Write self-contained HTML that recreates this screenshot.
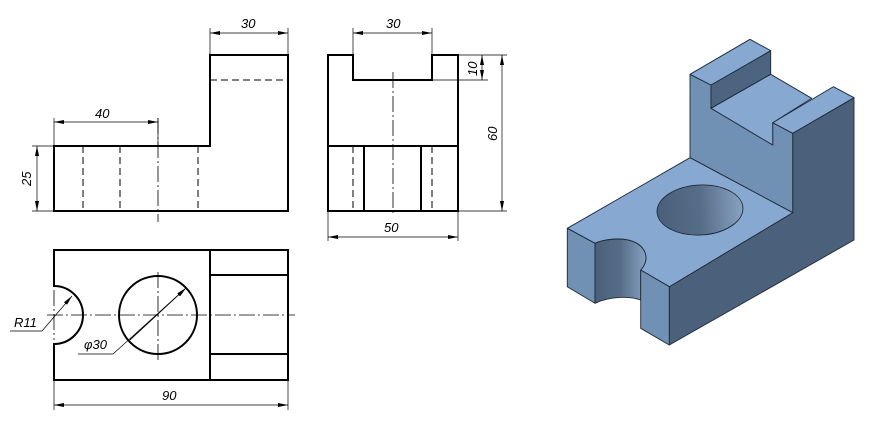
<!DOCTYPE html>
<html><head><meta charset="utf-8"><style>
html,body{margin:0;padding:0;background:#fff;width:875px;height:429px;overflow:hidden}
svg{display:block}
text{font-family:"Liberation Sans",sans-serif;font-style:italic;font-size:13px;fill:#000}
</style></head><body>
<svg width="875" height="429" viewBox="0 0 875 429" xmlns="http://www.w3.org/2000/svg">
<defs>
<marker id="a" viewBox="0 0 10 4" refX="10" refY="2" markerWidth="10" markerHeight="4" orient="auto-start-reverse" markerUnits="userSpaceOnUse"><path d="M0,0 L10,2 L0,4z" fill="#000"/></marker>
<linearGradient id="g1" x1="0" x2="1" y1="0" y2="0"><stop offset="0" stop-color="#4a607a"/><stop offset="0.5" stop-color="#566d88"/><stop offset="1" stop-color="#87a2c2"/></linearGradient>
</defs>
<!-- FRONT VIEW -->
<g fill="none" stroke="#000">
<path d="M54,146 H210 V55 H288 V211 H54 Z" stroke-width="2"/>
<path d="M210,80 H288" stroke-width="1" stroke-dasharray="7,4"/>
<path d="M83,146 V211 M120,146 V211 M198,146 V211" stroke-width="1" stroke-dasharray="7,4"/>
<path d="M158,118 V222" stroke-width="0.8" stroke-dasharray="16,3,2,3"/>
<g stroke-width="0.7">
<path d="M54,118 V146 M158,118 V146 M210,28 V55 M288,28 V55 M32,146 H54 M32,211 H54"/>
<path d="M54,122 H158" marker-start="url(#a)" marker-end="url(#a)"/>
<path d="M210,33 H288" marker-start="url(#a)" marker-end="url(#a)"/>
<path d="M37,146 V211" marker-start="url(#a)" marker-end="url(#a)"/>
</g>
</g>
<text x="95" y="118">40</text>
<text x="241" y="28">30</text>
<text transform="translate(31,186) rotate(-90)">25</text>
<!-- SIDE VIEW -->
<g fill="none" stroke="#000">
<path d="M328,55 H353 V80 H432 V55 H458 V211 H328 Z" stroke-width="2"/>
<path d="M328,146 H458 M364,146 V211 M421,146 V211" stroke-width="2"/>
<path d="M353,146 V211 M432,146 V211" stroke-width="1" stroke-dasharray="7,4"/>
<path d="M393,72 V216" stroke-width="0.8" stroke-dasharray="16,3,2,3"/>
<g stroke-width="0.7">
<path d="M353,28 V55 M432,28 V55 M458,55 H507 M432,80 H488 M458,211 H507 M328,211 V241 M458,211 V241"/>
<path d="M353,33 H432" marker-start="url(#a)" marker-end="url(#a)"/>
<path d="M482,55 V80" marker-start="url(#a)" marker-end="url(#a)"/>
<path d="M502,55 V211" marker-start="url(#a)" marker-end="url(#a)"/>
<path d="M328,237 H458" marker-start="url(#a)" marker-end="url(#a)"/>
</g>
</g>
<text x="386" y="28">30</text>
<text transform="translate(477,76) rotate(-90)">10</text>
<text transform="translate(497,141) rotate(-90)">60</text>
<text x="384" y="232">50</text>
<!-- TOP VIEW -->
<g fill="none" stroke="#000">
<path d="M54,250 H288 V380 H54 V344 A29,29 0 0 0 54,286 Z" stroke-width="2"/>
<path d="M210,250 V380 M210,275 H288 M210,354 H288" stroke-width="2"/>
<circle cx="158" cy="315" r="39" stroke-width="2"/>
<path d="M47,315 H295" stroke-width="0.8" stroke-dasharray="16,3,2,3"/>
<path d="M158,272 V362 M54,290 V340" stroke-width="0.8" stroke-dasharray="16,3,2,3"/>
<g stroke-width="0.7">
<path d="M72,296 L42,331 H10" marker-start="url(#a)"/>
<path d="M186,288 L130,340" marker-start="url(#a)" />
<path d="M130,340 L134,336 L186,288" marker-end="url(#a)"/>
<path d="M186,288 L113,354 H78"/>
<path d="M54,380 V410 M288,380 V410"/>
<path d="M54,405 H288" marker-start="url(#a)" marker-end="url(#a)"/>
</g>
</g>
<text x="14" y="327">R11</text>
<text x="84" y="349">&#966;30</text>
<text x="162" y="400">90</text>
<!-- ISOMETRIC -->
<g stroke="#1e2a38" stroke-width="0.9" stroke-linejoin="round">
<!-- right dark face -->
<polygon points="792.7,133.3 854,97.7 854,240 669.3,345 669.3,286.7 792.7,212.7" fill="#4b617b"/>
<!-- front face of upright -->
<polygon points="690,74.3 711,85 711,108.3 772.7,145 772.7,122.7 792.7,133.3 792.7,212.7 690,157.7" fill="#7090b4"/>
<!-- inner wall face -->
<polygon points="711,85 770.7,50.7 770.7,74.3 711,108.3" fill="#4d6480"/>
<!-- notch floor -->
<polygon points="711,108.3 770.7,74.3 811.7,98.3 772.7,122.7 772.7,145" fill="#87a9d1"/>
<!-- left wall top -->
<polygon points="690,74.3 750,39.3 770.7,50.7 711,85" fill="#87a9d1"/>
<!-- right wall top -->
<polygon points="772.7,122.7 833.3,86.7 854,97.7 792.7,133.3" fill="#87a9d1"/>
<!-- base top -->
<path d="M567.3,228.3 L690,157.7 L792.7,212.7 L669.3,286.7 L640.7,270 C652,258 645,240 620,239 C608,239 600,241 595,243.3 Z" fill="#87a9d1"/>
<!-- base front left -->
<polygon points="567.3,228.3 595,243.3 595,303.3 567.3,286.7" fill="#7090b4"/>
<!-- notch cylinder -->
<path d="M595,243.3 C600,241 608,239 620,239 C645,240 652,258 640.7,270 L640.7,300 C630,296 610,296 595,303.3 Z" fill="url(#g1)"/>
<!-- base front right -->
<polygon points="640.7,270 669.3,286.7 669.3,345 640.7,328.3" fill="#7090b4"/>
<!-- hole -->
<ellipse cx="700" cy="210" rx="43" ry="25" fill="url(#g1)" transform="rotate(-3 700 210)"/>
</g>
</svg>
</body></html>
